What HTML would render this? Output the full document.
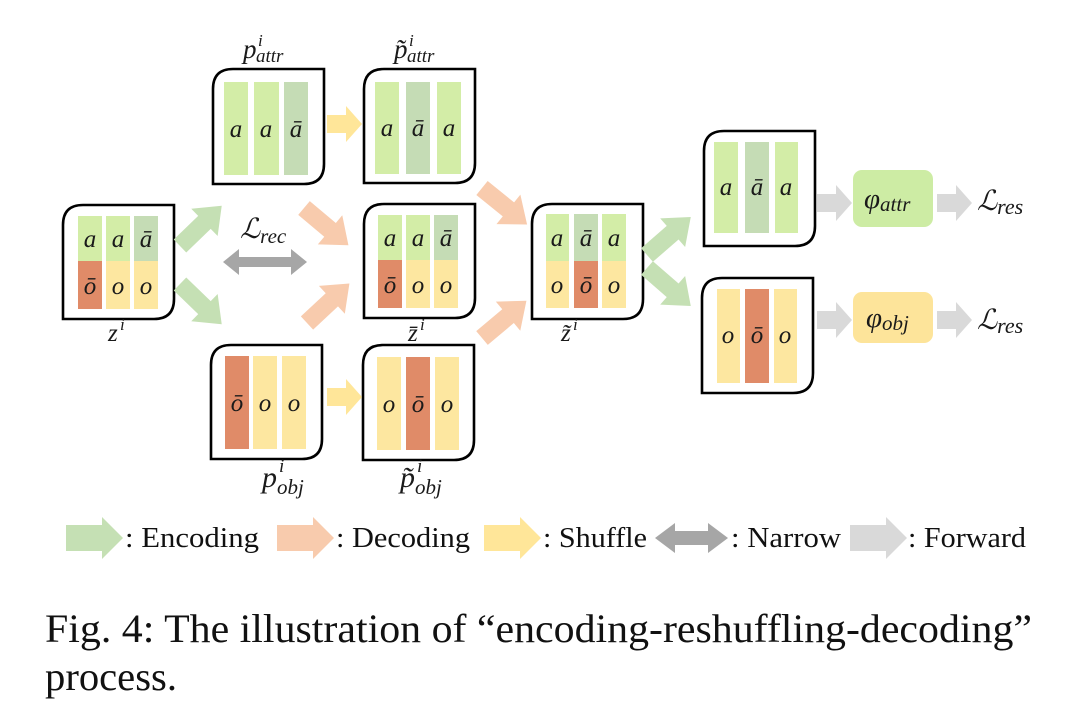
<!DOCTYPE html>
<html><head><meta charset="utf-8"><style>
html,body{margin:0;padding:0;background:#fff;}
svg{display:block;}
.m{font-family:"Liberation Serif","DejaVu Serif",serif;font-style:italic;fill:#1a1a1a;}
.b{font-size:25px;text-anchor:middle;}
.t{font-family:"Liberation Serif","DejaVu Serif",serif;fill:#111;}
</style></head><body>
<svg width="1071" height="720" viewBox="0 0 1071 720" xmlns="http://www.w3.org/2000/svg">
<defs>
<polygon id="da" points="0,-9 34,-9 34,-19 58,0 34,19 34,9 0,9"/>
<polygon id="fa" points="0,-9 19,-9 19,-18 35,0 19,18 19,9 0,9"/>
<polygon id="la" points="0,-13 36,-13 36,-21 57,0 36,21 36,13 0,13"/>
</defs>
<rect width="1071" height="720" fill="#fff"/>

<rect x="224" y="82" width="24" height="93" fill="#d3eda7"/>
<rect x="254" y="82" width="25" height="93" fill="#d3eda7"/>
<rect x="284" y="82" width="24" height="93" fill="#c5dcb5"/>
<text class="m b" x="236" y="137">a</text><text class="m b" x="266" y="137">a</text><text class="m b" x="296" y="137">ā</text>

<rect x="375" y="82" width="24" height="92" fill="#d3eda7"/>
<rect x="406" y="82" width="24" height="92" fill="#c5dcb5"/>
<rect x="437" y="82" width="24" height="92" fill="#d3eda7"/>
<text class="m b" x="387" y="136">a</text><text class="m b" x="418" y="136">ā</text><text class="m b" x="449" y="136">a</text>

<rect x="78" y="216" width="24" height="45" fill="#d3eda7"/><rect x="78" y="261" width="24" height="48" fill="#e08b68"/>
<rect x="106" y="216" width="24" height="45" fill="#d3eda7"/><rect x="106" y="261" width="24" height="48" fill="#fde7a0"/>
<rect x="134" y="216" width="24" height="45" fill="#c5dcb5"/><rect x="134" y="261" width="24" height="48" fill="#fde7a0"/>
<text class="m b" x="90" y="247">a</text><text class="m b" x="118" y="247">a</text><text class="m b" x="146" y="247">ā</text>
<text class="m b" x="90" y="294">ō</text><text class="m b" x="118" y="294">o</text><text class="m b" x="146" y="294">o</text>

<rect x="378" y="215" width="24" height="45" fill="#d3eda7"/><rect x="378" y="260" width="24" height="48" fill="#e08b68"/>
<rect x="406" y="215" width="24" height="45" fill="#d3eda7"/><rect x="406" y="260" width="24" height="48" fill="#fde7a0"/>
<rect x="434" y="215" width="24" height="45" fill="#c5dcb5"/><rect x="434" y="260" width="24" height="48" fill="#fde7a0"/>
<text class="m b" x="390" y="246">a</text><text class="m b" x="418" y="246">a</text><text class="m b" x="446" y="246">ā</text>
<text class="m b" x="390" y="293">ō</text><text class="m b" x="418" y="293">o</text><text class="m b" x="446" y="293">o</text>

<rect x="225" y="356" width="24" height="93" fill="#e08b68"/>
<rect x="253" y="356" width="24" height="93" fill="#fde7a0"/>
<rect x="282" y="356" width="24" height="93" fill="#fde7a0"/>
<text class="m b" x="237" y="411">ō</text><text class="m b" x="265" y="411">o</text><text class="m b" x="294" y="411">o</text>

<rect x="377" y="357" width="24" height="93" fill="#fde7a0"/>
<rect x="406" y="357" width="24" height="93" fill="#e08b68"/>
<rect x="435" y="357" width="24" height="93" fill="#fde7a0"/>
<text class="m b" x="389" y="412">o</text><text class="m b" x="418" y="412">ō</text><text class="m b" x="447" y="412">o</text>

<rect x="546" y="214" width="23" height="47" fill="#d3eda7"/><rect x="546" y="261" width="23" height="47" fill="#fde7a0"/>
<rect x="574" y="214" width="24" height="47" fill="#c5dcb5"/><rect x="574" y="261" width="24" height="47" fill="#e08b68"/>
<rect x="602" y="214" width="24" height="47" fill="#d3eda7"/><rect x="602" y="261" width="24" height="47" fill="#fde7a0"/>
<text class="m b" x="557" y="246">a</text><text class="m b" x="586" y="246">ā</text><text class="m b" x="614" y="246">a</text>
<text class="m b" x="557" y="293">o</text><text class="m b" x="586" y="293">ō</text><text class="m b" x="614" y="293">o</text>

<rect x="714" y="142" width="24" height="91" fill="#d3eda7"/>
<rect x="745" y="142" width="24" height="91" fill="#c5dcb5"/>
<rect x="775" y="142" width="23" height="91" fill="#d3eda7"/>
<text class="m b" x="726" y="195">a</text><text class="m b" x="757" y="195">ā</text><text class="m b" x="786" y="195">a</text>

<rect x="717" y="289" width="23" height="94" fill="#fde7a0"/>
<rect x="745" y="289" width="24" height="94" fill="#e08b68"/>
<rect x="774" y="289" width="23" height="94" fill="#fde7a0"/>
<text class="m b" x="728" y="343">o</text><text class="m b" x="757" y="343">ō</text><text class="m b" x="785" y="343">o</text>

<g fill="none" stroke="#000" stroke-width="2.6">
<path d="M233,69 H324 V164 Q324,184 304,184 H213 V89 Q213,69 233,69 Z"/>
<path d="M384,69 H475 V163 Q475,183 455,183 H364 V89 Q364,69 384,69 Z"/>
<path d="M83,205 H174 V299 Q174,319 154,319 H63 V225 Q63,205 83,205 Z"/>
<path d="M384,204 H475 V298 Q475,318 455,318 H364 V224 Q364,204 384,204 Z"/>
<path d="M231,345 H322 V439 Q322,459 302,459 H211 V365 Q211,345 231,345 Z"/>
<path d="M383,345 H474 V440 Q474,460 454,460 H363 V365 Q363,345 383,345 Z"/>
<path d="M552,204 H643 V299 Q643,319 623,319 H532 V224 Q532,204 552,204 Z"/>
<path d="M724,131 H815 V226 Q815,246 795,246 H704 V151 Q704,131 724,131 Z"/>
<path d="M722,278 H813 V373 Q813,393 793,393 H702 V298 Q702,278 722,278 Z"/>
</g>

<use href="#da" fill="#c5e0b4" transform="translate(180,246) rotate(-44)"/>
<use href="#da" fill="#c5e0b4" transform="translate(180,284) rotate(44)"/>
<use href="#da" fill="#f8cbad" transform="translate(304,208) rotate(40)"/>
<use href="#da" fill="#f8cbad" transform="translate(307,323) rotate(-43)"/>
<use href="#da" fill="#f8cbad" transform="translate(482,188) rotate(39)"/>
<use href="#da" fill="#f8cbad" transform="translate(482,338) rotate(-40)"/>
<use href="#da" fill="#c5e0b4" transform="translate(647,255) rotate(-41)"/>
<use href="#da" fill="#c5e0b4" transform="translate(647,268) rotate(41)"/>
<use href="#fa" fill="#ffe699" transform="translate(327,124)"/>
<use href="#fa" fill="#ffe699" transform="translate(327,397)"/>
<use href="#fa" fill="#d9d9d9" transform="translate(817,203)"/>
<use href="#fa" fill="#d9d9d9" transform="translate(937,203)"/>
<use href="#fa" fill="#d9d9d9" transform="translate(817,320)"/>
<use href="#fa" fill="#d9d9d9" transform="translate(937,320)"/>
<polygon fill="#a6a6a6" points="223,262 239,249 239,257 291,257 291,249 307,262 291,275 291,267 239,267 239,275"/>

<rect x="853" y="170" width="80" height="57" rx="9" fill="#cdeca4"/>
<rect x="853" y="292" width="80" height="51" rx="9" fill="#fde49a"/>
<text class="m" x="864" y="208" font-size="29">φ<tspan font-size="21" dy="3">attr</tspan></text>
<text class="m" x="866" y="327" font-size="29">φ<tspan font-size="21" dy="3">obj</tspan></text>
<text class="m" x="977" y="210" font-size="28">ℒ<tspan font-size="22" dy="4">res</tspan></text>
<text class="m" x="977" y="329" font-size="28">ℒ<tspan font-size="22" dy="4">res</tspan></text>

<text class="m" x="243" y="58" font-size="27">p</text><text class="m" x="258" y="46" font-size="17">i</text><text class="m" x="256" y="62" font-size="19">attr</text>
<text class="m" x="394" y="58" font-size="27">p̃</text><text class="m" x="409" y="46" font-size="17">i</text><text class="m" x="407" y="62" font-size="19">attr</text>
<text class="m" x="240" y="238" font-size="28">ℒ<tspan font-size="21" dy="5">rec</tspan></text>
<text class="m" x="108" y="341" font-size="25">z</text><text class="m" x="120" y="330" font-size="17">i</text>
<text class="m" x="408" y="341" font-size="25">z̄</text><text class="m" x="420" y="330" font-size="17">i</text>
<text class="m" x="561" y="341" font-size="25">z̃</text><text class="m" x="573" y="330" font-size="17">i</text>
<text class="m" x="262" y="487" font-size="30">p</text><text class="m" x="279" y="472" font-size="19">i</text><text class="m" x="277" y="494" font-size="21">obj</text>
<text class="m" x="400" y="487" font-size="30">p̃</text><text class="m" x="417" y="472" font-size="19">i</text><text class="m" x="415" y="494" font-size="21">obj</text>

<use href="#la" fill="#c5e0b4" transform="translate(66,538)"/>
<use href="#la" fill="#f8cbad" transform="translate(277,538)"/>
<use href="#la" fill="#ffe699" transform="translate(484,538)"/>
<polygon fill="#a6a6a6" points="655,538 675,523 675,531 708,531 708,523 728,538 708,553 708,545 675,545 675,553"/>
<use href="#la" fill="#d9d9d9" transform="translate(850,538)"/>
<text class="t" x="125" y="547" font-size="29" textLength="134" lengthAdjust="spacingAndGlyphs">: Encoding</text>
<text class="t" x="336" y="547" font-size="29" textLength="134" lengthAdjust="spacingAndGlyphs">: Decoding</text>
<text class="t" x="543" y="547" font-size="29" textLength="104" lengthAdjust="spacingAndGlyphs">: Shuffle</text>
<text class="t" x="731" y="547" font-size="29" textLength="110" lengthAdjust="spacingAndGlyphs">: Narrow</text>
<text class="t" x="908" y="547" font-size="29" textLength="118" lengthAdjust="spacingAndGlyphs">: Forward</text>

<text class="t" x="45" y="642" font-size="40" textLength="987" lengthAdjust="spacingAndGlyphs">Fig. 4: The illustration of “encoding-reshuffling-decoding”</text>
<text class="t" x="45" y="690" font-size="40" textLength="132" lengthAdjust="spacingAndGlyphs">process.</text>
</svg>
</body></html>
